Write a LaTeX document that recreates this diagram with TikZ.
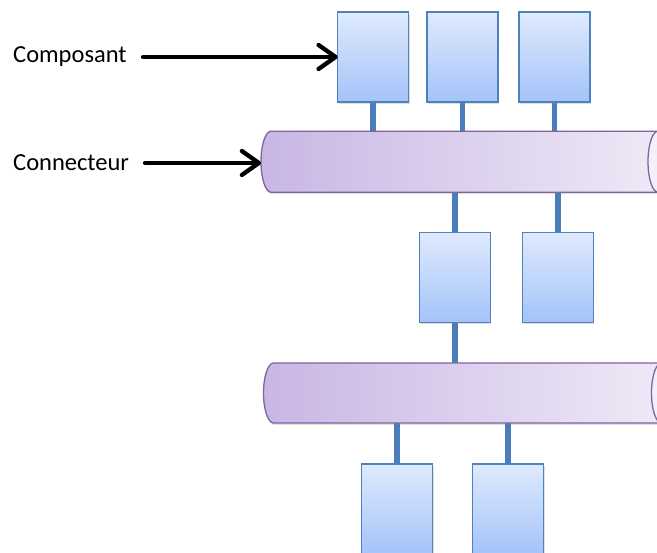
\documentclass[tikz,border=0pt]{standalone}
\usepackage{fontspec}
\setmainfont{Carlito}
\usetikzlibrary{arrows.meta,shadows}
\definecolor{boxtop}{HTML}{DFEAFD}
\definecolor{boxbot}{HTML}{A4C3F9}
\definecolor{boxline}{HTML}{4F81BD}
\definecolor{linkcol}{HTML}{4A7EBB}
\definecolor{cylleft}{HTML}{C9B6E4}
\definecolor{cylright}{HTML}{EFEAF7}
\definecolor{cylface}{HTML}{F4F0FA}
\definecolor{cylline}{HTML}{8064A2}
\pgfdeclarelayer{bg}
\pgfsetlayers{bg,main}
\tikzset{
  comp/.style={draw=boxline, line width=1.5pt, top color=boxtop, bottom color=boxbot,
    minimum width=71pt, minimum height=90pt, inner sep=0pt, outer sep=0pt,
    drop shadow={shadow xshift=1pt, shadow yshift=-2pt, opacity=0.25}},
  busbox/.style={minimum width=407pt, minimum height=61pt, inner sep=0pt, outer sep=0pt},
  cylbody/.style={draw=cylline, line width=1.3pt, left color=cylleft, right color=cylright},
  cylend/.style={draw=cylline, line width=1.3pt, fill=cylface},
  link/.style={draw=linkcol, line width=5.5pt},
  lbl/.style={font=\fontsize{24.5}{29}\selectfont, inner sep=0pt, anchor=west},
  pointer/.style={line width=4.3pt, line cap=round, line join=round,
    -{Straight Barb[length=17pt, width=24pt, line cap=round, line join=round]}}
}
\begin{document}
\begin{tikzpicture}[x=1pt,y=1pt]
\useasboundingbox (0,0) rectangle (657,553);
\clip (0,0) rectangle (657,553);
% components
\node[comp] (t1) at (373.2,496) {};
\node[comp] (t2) at (462.7,496) {};
\node[comp] (t3) at (554.5,496) {};
\node[comp] (m1) at (454.8,275.5) {};
\node[comp] (m2) at (557.8,275.5) {};
\node[comp] (b1) at (397.2,44) {};
\node[comp] (b2) at (508.2,44) {};
% buses (anchor nodes)
\node[busbox] (c1) at (464.5,391.3) {};
\node[busbox, minimum width=408pt, minimum height=60pt] (c2) at (467.5,160) {};
% cylinder drawings
\path[cylbody, drop shadow={shadow xshift=1pt, shadow yshift=-2pt, opacity=0.25}]
  ([xshift=10pt]c1.north west) -- ([xshift=-10pt]c1.north east)
  arc[start angle=90, end angle=-90, x radius=10pt, y radius=30.5pt]
  -- ([xshift=10pt]c1.south west)
  arc[start angle=270, end angle=90, x radius=10pt, y radius=30.5pt] -- cycle;
\path[cylend] ([xshift=-10pt]c1.east) ellipse[x radius=10pt, y radius=30.5pt];
\path[cylbody, drop shadow={shadow xshift=1pt, shadow yshift=-2pt, opacity=0.25}]
  ([xshift=10pt]c2.north west) -- ([xshift=-10pt]c2.north east)
  arc[start angle=90, end angle=-90, x radius=10pt, y radius=30pt]
  -- ([xshift=10pt]c2.south west)
  arc[start angle=270, end angle=90, x radius=10pt, y radius=30pt] -- cycle;
\path[cylend] ([xshift=-10pt]c2.east) ellipse[x radius=10pt, y radius=30pt];
% links
\begin{pgfonlayer}{bg}
\draw[link] (t1.south) -- (t1.south |- c1.north);
\draw[link] (t2.south) -- (t2.south |- c1.north);
\draw[link] (t3.south) -- (t3.south |- c1.north);
\draw[link] (m1.north) -- (m1.north |- c1.south);
\draw[link] (m2.north) -- (m2.north |- c1.south);
\draw[link] (m1.south) -- (m1.south |- c2.north);
\draw[link] (b1.north) -- (b1.north |- c2.south);
\draw[link] (b2.north) -- (b2.north |- c2.south);
\end{pgfonlayer}
% labels
\node[lbl] (lcomp) at (13,496) {Composant};
\node[lbl] (lconn) at (13,390) {Connecteur};
\coordinate (a1) at (143,496);
\coordinate (a2) at (145,390);
\draw[pointer] (a1) -- (t1.west);
\draw[pointer] (a2) -- (a2 -| c1.west);
\end{tikzpicture}
\end{document}
